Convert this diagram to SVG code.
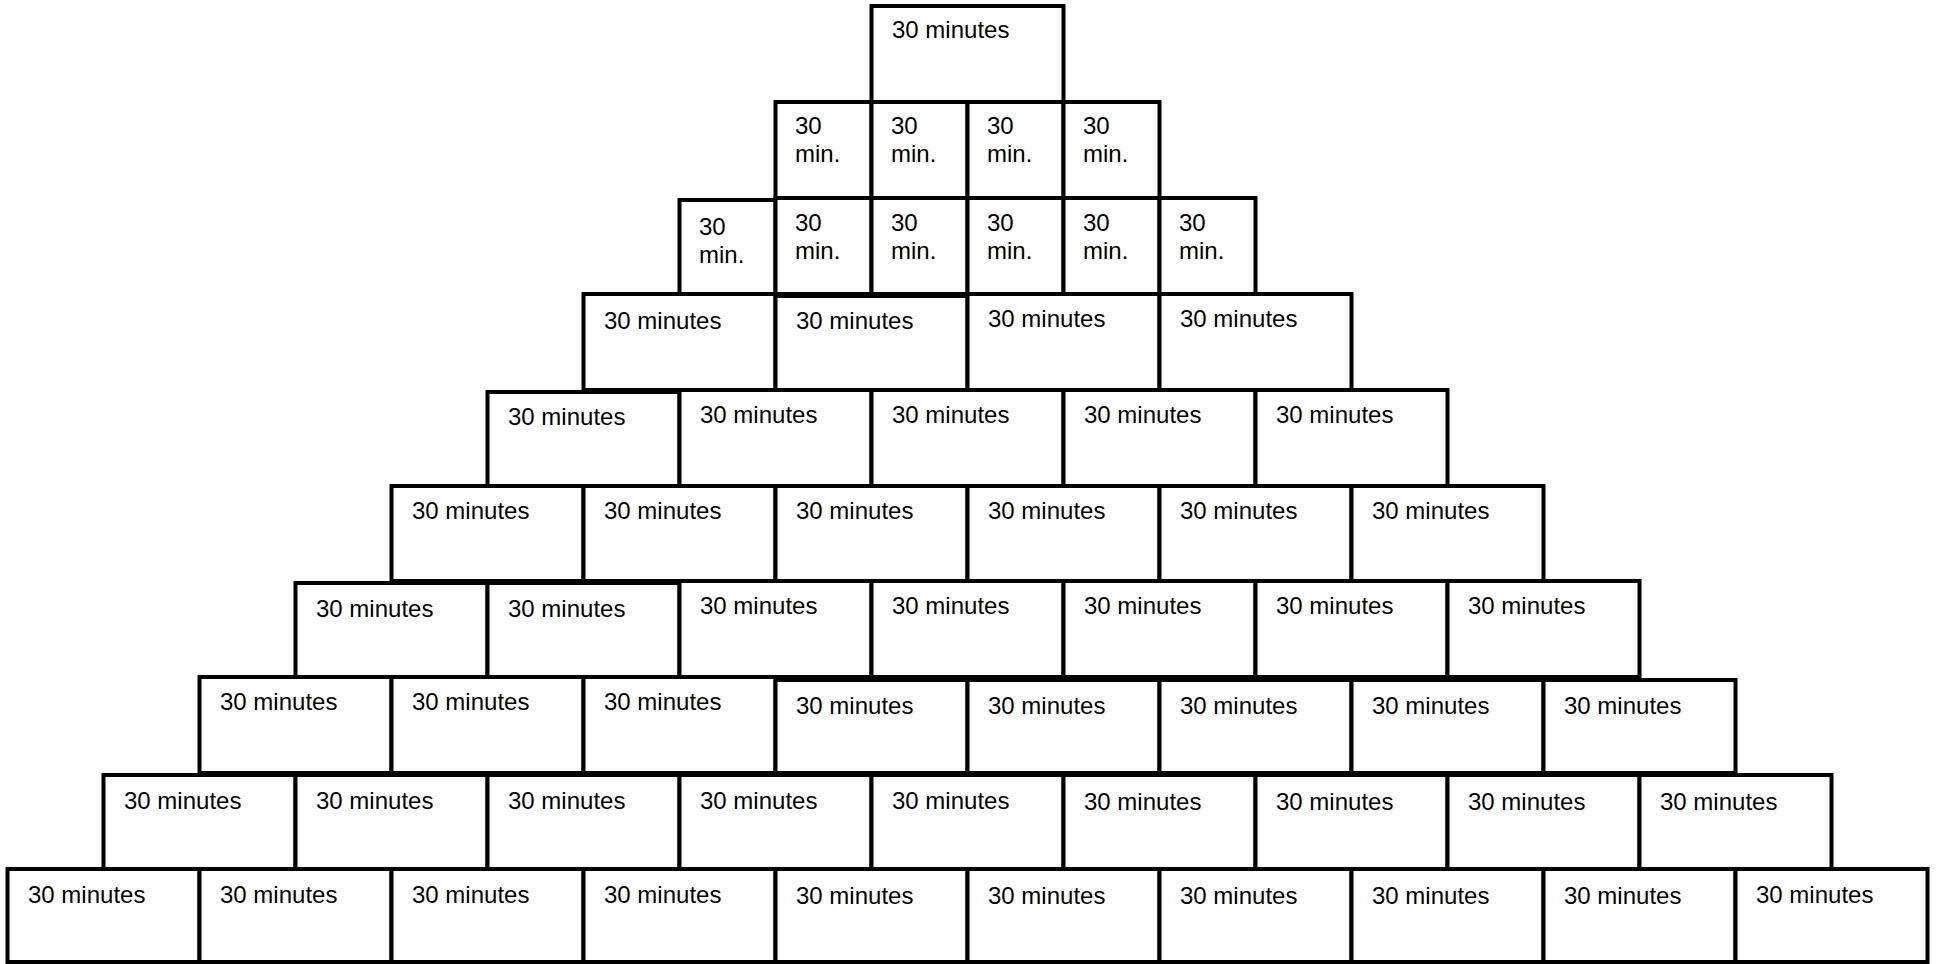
<svg xmlns="http://www.w3.org/2000/svg" width="1937" height="964" viewBox="0 0 1937 964">
<style>
rect{fill:#fff;stroke:#000;stroke-width:4}
text{font-family:"Liberation Sans",Arial,sans-serif;font-size:24px;fill:#000}
</style>
<rect x="0" y="0" width="1937" height="964" style="stroke:none"/>
<g id="row1">
<g id="r1c1"><rect x="871.5" y="6" width="192" height="96"/><text x="892" y="38">30 minutes</text></g>
</g>
<g id="row2">
<g id="r2c1"><rect x="775.5" y="102" width="96" height="96"/><text x="795" y="134">30</text><text x="795" y="162">min.</text></g>
<g id="r2c2"><rect x="871.5" y="102" width="96" height="96"/><text x="891" y="134">30</text><text x="891" y="162">min.</text></g>
<g id="r2c3"><rect x="967.5" y="102" width="96" height="96"/><text x="987" y="134">30</text><text x="987" y="162">min.</text></g>
<g id="r2c4"><rect x="1063.5" y="102" width="96" height="96"/><text x="1083" y="134">30</text><text x="1083" y="162">min.</text></g>
</g>
<g id="row3">
<g id="r3c1"><rect x="679.5" y="200" width="96" height="94"/><text x="699" y="235">30</text><text x="699" y="263">min.</text></g>
<g id="r3c2"><rect x="775.5" y="198" width="96" height="96"/><text x="795" y="231">30</text><text x="795" y="259">min.</text></g>
<g id="r3c3"><rect x="871.5" y="198" width="96" height="96"/><text x="891" y="231">30</text><text x="891" y="259">min.</text></g>
<g id="r3c4"><rect x="967.5" y="198" width="96" height="96"/><text x="987" y="231">30</text><text x="987" y="259">min.</text></g>
<g id="r3c5"><rect x="1063.5" y="198" width="96" height="96"/><text x="1083" y="231">30</text><text x="1083" y="259">min.</text></g>
<g id="r3c6"><rect x="1159.5" y="198" width="96" height="96"/><text x="1179" y="231">30</text><text x="1179" y="259">min.</text></g>
</g>
<g id="row4">
<g id="r4c1"><rect x="583.5" y="294" width="192" height="96"/><text x="604" y="329">30 minutes</text></g>
<g id="r4c2"><rect x="775.5" y="296" width="192" height="94"/><text x="796" y="329">30 minutes</text></g>
<g id="r4c3"><rect x="967.5" y="294" width="192" height="96"/><text x="988" y="327">30 minutes</text></g>
<g id="r4c4"><rect x="1159.5" y="294" width="192" height="96"/><text x="1180" y="327">30 minutes</text></g>
</g>
<g id="row5">
<g id="r5c1"><rect x="487.5" y="392" width="192" height="94"/><text x="508" y="425">30 minutes</text></g>
<g id="r5c2"><rect x="679.5" y="390" width="192" height="96"/><text x="700" y="423">30 minutes</text></g>
<g id="r5c3"><rect x="871.5" y="390" width="192" height="96"/><text x="892" y="423">30 minutes</text></g>
<g id="r5c4"><rect x="1063.5" y="390" width="192" height="96"/><text x="1084" y="423">30 minutes</text></g>
<g id="r5c5"><rect x="1255.5" y="390" width="192" height="96"/><text x="1276" y="423">30 minutes</text></g>
</g>
<g id="row6">
<g id="r6c1"><rect x="391.5" y="486" width="192" height="95"/><text x="412" y="519">30 minutes</text></g>
<g id="r6c2"><rect x="583.5" y="486" width="192" height="95"/><text x="604" y="519">30 minutes</text></g>
<g id="r6c3"><rect x="775.5" y="486" width="192" height="95"/><text x="796" y="519">30 minutes</text></g>
<g id="r6c4"><rect x="967.5" y="486" width="192" height="95"/><text x="988" y="519">30 minutes</text></g>
<g id="r6c5"><rect x="1159.5" y="486" width="192" height="95"/><text x="1180" y="519">30 minutes</text></g>
<g id="r6c6"><rect x="1351.5" y="486" width="192" height="95"/><text x="1372" y="519">30 minutes</text></g>
</g>
<g id="row7">
<g id="r7c1"><rect x="295.5" y="583" width="192" height="94"/><text x="316" y="617">30 minutes</text></g>
<g id="r7c2"><rect x="487.5" y="583" width="192" height="94"/><text x="508" y="617">30 minutes</text></g>
<g id="r7c3"><rect x="679.5" y="581" width="192" height="96"/><text x="700" y="614">30 minutes</text></g>
<g id="r7c4"><rect x="871.5" y="581" width="192" height="96"/><text x="892" y="614">30 minutes</text></g>
<g id="r7c5"><rect x="1063.5" y="581" width="192" height="96"/><text x="1084" y="614">30 minutes</text></g>
<g id="r7c6"><rect x="1255.5" y="581" width="192" height="96"/><text x="1276" y="614">30 minutes</text></g>
<g id="r7c7"><rect x="1447.5" y="581" width="192" height="96"/><text x="1468" y="614">30 minutes</text></g>
</g>
<g id="row8">
<g id="r8c1"><rect x="199.5" y="677" width="192" height="96"/><text x="220" y="710">30 minutes</text></g>
<g id="r8c2"><rect x="391.5" y="677" width="192" height="96"/><text x="412" y="710">30 minutes</text></g>
<g id="r8c3"><rect x="583.5" y="677" width="192" height="96"/><text x="604" y="710">30 minutes</text></g>
<g id="r8c4"><rect x="775.5" y="680" width="192" height="93"/><text x="796" y="714">30 minutes</text></g>
<g id="r8c5"><rect x="967.5" y="680" width="192" height="93"/><text x="988" y="714">30 minutes</text></g>
<g id="r8c6"><rect x="1159.5" y="680" width="192" height="93"/><text x="1180" y="714">30 minutes</text></g>
<g id="r8c7"><rect x="1351.5" y="680" width="192" height="93"/><text x="1372" y="714">30 minutes</text></g>
<g id="r8c8"><rect x="1543.5" y="680" width="192" height="93"/><text x="1564" y="714">30 minutes</text></g>
</g>
<g id="row9">
<g id="r9c1"><rect x="103.5" y="775" width="192" height="94"/><text x="124" y="809">30 minutes</text></g>
<g id="r9c2"><rect x="295.5" y="775" width="192" height="94"/><text x="316" y="809">30 minutes</text></g>
<g id="r9c3"><rect x="487.5" y="775" width="192" height="94"/><text x="508" y="809">30 minutes</text></g>
<g id="r9c4"><rect x="679.5" y="775" width="192" height="94"/><text x="700" y="809">30 minutes</text></g>
<g id="r9c5"><rect x="871.5" y="775" width="192" height="94"/><text x="892" y="809">30 minutes</text></g>
<g id="r9c6"><rect x="1063.5" y="775" width="192" height="94"/><text x="1084" y="810">30 minutes</text></g>
<g id="r9c7"><rect x="1255.5" y="775" width="192" height="94"/><text x="1276" y="810">30 minutes</text></g>
<g id="r9c8"><rect x="1447.5" y="775" width="192" height="94"/><text x="1468" y="810">30 minutes</text></g>
<g id="r9c9"><rect x="1639.5" y="775" width="192" height="94"/><text x="1660" y="810">30 minutes</text></g>
</g>
<g id="row10">
<g id="r10c1"><rect x="7.5" y="869" width="192" height="93"/><text x="28" y="903">30 minutes</text></g>
<g id="r10c2"><rect x="199.5" y="869" width="192" height="93"/><text x="220" y="903">30 minutes</text></g>
<g id="r10c3"><rect x="391.5" y="869" width="192" height="93"/><text x="412" y="903">30 minutes</text></g>
<g id="r10c4"><rect x="583.5" y="869" width="192" height="93"/><text x="604" y="903">30 minutes</text></g>
<g id="r10c5"><rect x="775.5" y="869" width="192" height="93"/><text x="796" y="904">30 minutes</text></g>
<g id="r10c6"><rect x="967.5" y="869" width="192" height="93"/><text x="988" y="904">30 minutes</text></g>
<g id="r10c7"><rect x="1159.5" y="869" width="192" height="93"/><text x="1180" y="904">30 minutes</text></g>
<g id="r10c8"><rect x="1351.5" y="869" width="192" height="93"/><text x="1372" y="904">30 minutes</text></g>
<g id="r10c9"><rect x="1543.5" y="869" width="192" height="93"/><text x="1564" y="904">30 minutes</text></g>
<g id="r10c10"><rect x="1735.5" y="869" width="192" height="93"/><text x="1756" y="903">30 minutes</text></g>
</g>
<g id="connectors"/>
</svg>
